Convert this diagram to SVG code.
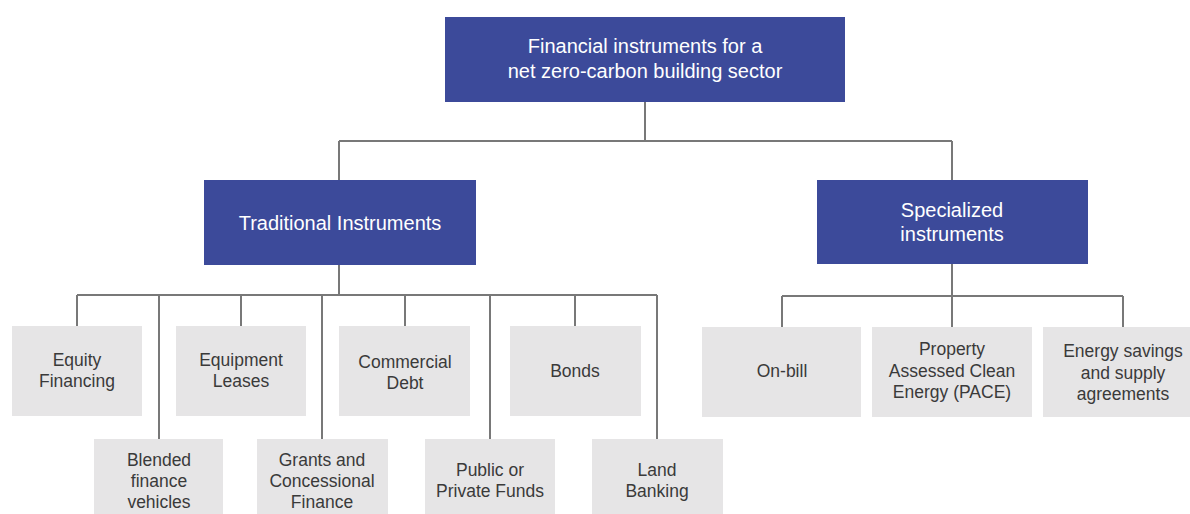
<svg xmlns="http://www.w3.org/2000/svg" width="1190" height="514" viewBox="0 0 1190 514">
<style>
.blue{fill:#3c4a9a}
.gray{fill:#e6e5e6}
.bt{fill:#ffffff;font-family:"Liberation Sans",Arial,sans-serif;font-size:20px;text-anchor:middle}
.gt{fill:#3a3a3a;font-family:"Liberation Sans",Arial,sans-serif;font-size:17.5px;text-anchor:middle}
.conn{fill:none;stroke:#787878;stroke-width:2}
</style>
<rect width="1190" height="514" fill="#ffffff"/>
<g id="connectors" class="conn">
<path d="M645 102V141M339 141H952M339 141V180M952 141V180"/>
<path d="M339 265V295M77 295H657M77 295V326M159 295V439M241 295V326M322 295V439M405 295V326M490 295V439M575 295V326M657 295V439"/>
<path d="M952 264V296M782 296H1123M782 296V327M952 296V327M1123 296V327"/>
</g>
<g id="root">
<rect class="blue" x="445" y="17" width="400" height="85"/>
<text class="bt" x="645" y="53">Financial instruments for a</text>
<text class="bt" x="645" y="78">net zero-carbon building sector</text>
</g>
<g id="traditional">
<rect class="blue" x="204" y="180" width="272" height="85"/>
<text class="bt" x="340" y="230">Traditional Instruments</text>
</g>
<g id="specialized">
<rect class="blue" x="817" y="180" width="271" height="84"/>
<text class="bt" x="952" y="217">Specialized</text>
<text class="bt" x="952" y="241">instruments</text>
</g>
<g id="equity">
<rect class="gray" x="12" y="326" width="130" height="90"/>
<text class="gt" x="77" y="366">Equity</text>
<text class="gt" x="77" y="387">Financing</text>
</g>
<g id="equipment">
<rect class="gray" x="176" y="326" width="130" height="90"/>
<text class="gt" x="241" y="366">Equipment</text>
<text class="gt" x="241" y="387">Leases</text>
</g>
<g id="commercial">
<rect class="gray" x="339" y="326" width="131" height="90"/>
<text class="gt" x="405" y="368">Commercial</text>
<text class="gt" x="405" y="389">Debt</text>
</g>
<g id="bonds">
<rect class="gray" x="510" y="326" width="131" height="90"/>
<text class="gt" x="575" y="377">Bonds</text>
</g>
<g id="blended">
<rect class="gray" x="94" y="439" width="129" height="75"/>
<text class="gt" x="159" y="466">Blended</text>
<text class="gt" x="159" y="487">finance</text>
<text class="gt" x="159" y="508">vehicles</text>
</g>
<g id="grants">
<rect class="gray" x="257" y="439" width="131" height="75"/>
<text class="gt" x="322" y="466">Grants and</text>
<text class="gt" x="322" y="487">Concessional</text>
<text class="gt" x="322" y="508">Finance</text>
</g>
<g id="funds">
<rect class="gray" x="425" y="439" width="130" height="75"/>
<text class="gt" x="490" y="476">Public or</text>
<text class="gt" x="490" y="497">Private Funds</text>
</g>
<g id="land">
<rect class="gray" x="592" y="439" width="131" height="75"/>
<text class="gt" x="657" y="476">Land</text>
<text class="gt" x="657" y="497">Banking</text>
</g>
<g id="onbill">
<rect class="gray" x="702" y="327" width="159" height="90"/>
<text class="gt" x="782" y="377">On-bill</text>
</g>
<g id="pace">
<rect class="gray" x="872" y="327" width="160" height="90"/>
<text class="gt" x="952" y="355">Property</text>
<text class="gt" x="952" y="376.5">Assessed Clean</text>
<text class="gt" x="952" y="398">Energy (PACE)</text>
</g>
<g id="energy">
<rect class="gray" x="1043" y="327" width="160" height="90"/>
<text class="gt" x="1123" y="357">Energy savings</text>
<text class="gt" x="1123" y="379">and supply</text>
<text class="gt" x="1123" y="400">agreements</text>
</g>
</svg>
